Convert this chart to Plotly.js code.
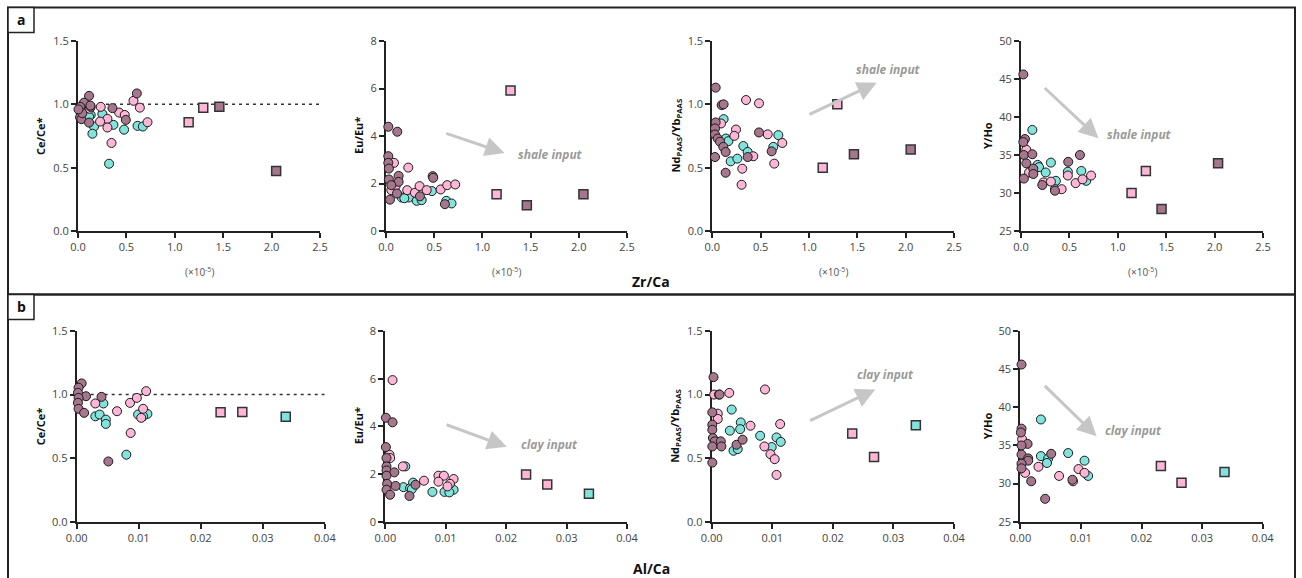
<!DOCTYPE html>
<html>
<head>
<meta charset="utf-8">
<script src="https://cdn.plot.ly/plotly-3.0.1.min.js"></script>
<style>html,body{margin:0;padding:0;background:#fff;}#chart{width:1302px;height:578px;}</style>
</head>
<body>
<div id="chart"></div>
<script>
// ---------------- DATA ----------------
// Row a: x = Zr/Ca (x10^-5)
const a1_mauve_x = [0.114, 0.062, 0.024, 0.131, 0.028, 0.021, 0.035, 0.114, 0.356, 0.608, 0.494, 0.045, 0.005, 0.128];
const a1_mauve_y = [1.067, 1.013, 0.98, 0.98, 0.93, 0.898, 0.883, 0.856, 0.97, 1.086, 0.877, 0.93, 0.96, 0.99];
const a1_pink_x  = [0.235, 0.304, 0.228, 0.304, 0.346, 0.425, 0.483, 0.573, 0.639, 0.718, 0.12];
const a1_pink_y  = [0.98, 0.885, 0.864, 0.817, 0.695, 0.935, 0.916, 1.028, 0.974, 0.859, 0.965];
const a1_cyan_x  = [0.131, 0.166, 0.149, 0.252, 0.366, 0.321, 0.476, 0.615, 0.67, 0.114];
const a1_cyan_y  = [0.916, 0.825, 0.768, 0.924, 0.838, 0.531, 0.8, 0.83, 0.825, 0.903];
const a1_sq_x = [1.143, 1.294, 1.46, 2.047];
const a1_sq_y = [0.859, 0.974, 0.98, 0.474];
const a1_sq_g = ['pink', 'pink', 'mauve', 'mauve'];

const a2_mauve_x = [0.024, 0.117, 0.024, 0.024, 0.03, 0.131, 0.03, 0.131, 0.055, 0.114, 0.041, 0.352, 0.484, 0.49, 0.611];
const a2_mauve_y = [4.39, 4.18, 3.15, 2.87, 2.63, 2.32, 2.17, 2.07, 1.93, 1.58, 1.32, 1.46, 2.31, 2.24, 1.13];
const a2_pink_x  = [0.083, 0.231, 0.055, 0.22, 0.3, 0.348, 0.422, 0.567, 0.635, 0.718, 0.1];
const a2_pink_y  = [2.87, 2.67, 1.72, 1.72, 1.61, 1.89, 1.72, 1.75, 1.93, 1.96, 1.9];
const a2_cyan_x  = [0.163, 0.237, 0.318, 0.37, 0.476, 0.625, 0.68, 0.19];
const a2_cyan_y  = [1.41, 1.41, 1.27, 1.3, 1.68, 1.27, 1.16, 1.38];
const a2_sq_x = [1.147, 1.292, 1.461, 2.048];
const a2_sq_y = [1.55, 5.92, 1.08, 1.55];
const a2_sq_g = ['pink', 'pink', 'mauve', 'mauve'];

const a3_mauve_x = [0.035, 0.097, 0.117, 0.035, 0.028, 0.028, 0.056, 0.08, 0.114, 0.138, 0.028, 0.138, 0.366, 0.483, 0.614];
const a3_mauve_y = [1.132, 0.994, 1.0, 0.857, 0.81, 0.762, 0.73, 0.705, 0.664, 0.624, 0.584, 0.46, 0.584, 0.778, 0.629];
const a3_pink_x  = [0.09, 0.245, 0.228, 0.349, 0.483, 0.424, 0.31, 0.303, 0.573, 0.724, 0.641];
const a3_pink_y  = [0.849, 0.801, 0.751, 1.034, 1.008, 0.59, 0.492, 0.365, 0.763, 0.695, 0.532];
const a3_cyan_x  = [0.117, 0.14, 0.166, 0.19, 0.259, 0.321, 0.366, 0.631, 0.683];
const a3_cyan_y  = [0.883, 0.73, 0.709, 0.55, 0.571, 0.671, 0.624, 0.664, 0.757];
const a3_sq_x = [1.142, 1.293, 1.465, 2.052];
const a3_sq_y = [0.5, 1.0, 0.606, 0.643];
const a3_sq_g = ['pink', 'pink', 'mauve', 'mauve'];

const a4_mauve_x = [0.024, 0.041, 0.024, 0.03, 0.117, 0.055, 0.127, 0.127, 0.03, 0.22, 0.351, 0.488, 0.609];
const a4_mauve_y = [45.6, 37.1, 36.7, 35.0, 35.1, 33.9, 33.2, 32.5, 31.9, 31.05, 30.3, 34.1, 35.0];
const a4_pink_x  = [0.055, 0.083, 0.233, 0.309, 0.42, 0.484, 0.564, 0.636, 0.724];
const a4_pink_y  = [35.7, 32.7, 31.4, 31.5, 30.5, 32.3, 31.3, 31.8, 32.3];
const a4_cyan_x  = [0.117, 0.172, 0.186, 0.255, 0.309, 0.36, 0.351, 0.484, 0.623, 0.674];
const a4_cyan_y  = [38.3, 33.7, 33.4, 32.7, 34.0, 31.6, 30.5, 32.8, 32.9, 31.6];
const a4_sq_x = [1.142, 1.29, 1.452, 2.036];
const a4_sq_y = [30.0, 32.9, 27.9, 33.9];
const a4_sq_g = ['pink', 'pink', 'mauve', 'mauve'];

// Row b: x = Al/Ca
const b1_mauve_x = [0.0008, 0.0003, 0.0002, 0.0015, 0.0003, 0.0002, 0.0003, 0.0012, 0.004, 0.0051];
const b1_mauve_y = [1.088, 1.054, 1.014, 0.987, 0.974, 0.935, 0.888, 0.856, 0.982, 0.474];
const b1_pink_x  = [0.003, 0.0065, 0.0087, 0.0086, 0.0097, 0.0112, 0.0107, 0.0104];
const b1_pink_y  = [0.93, 0.869, 0.698, 0.935, 0.974, 1.027, 0.888, 0.817];
const b1_cyan_x  = [0.0043, 0.003, 0.0037, 0.0047, 0.0047, 0.008, 0.0099, 0.0114, 0.0107];
const b1_cyan_y  = [0.93, 0.829, 0.843, 0.803, 0.769, 0.527, 0.843, 0.848, 0.829];
const b1_sq_x = [0.0232, 0.0267, 0.0337];
const b1_sq_y = [0.861, 0.863, 0.825];
const b1_sq_g = ['pink', 'pink', 'cyan'];

const b2_mauve_x = [0.0001, 0.0012, 0.0001, 0.0002, 0.0002, 0.0002, 0.0015, 0.0002, 0.0003, 0.0017, 0.0002, 0.0008, 0.004, 0.005];
const b2_mauve_y = [4.36, 4.17, 3.13, 2.67, 2.32, 2.15, 2.07, 1.93, 1.59, 1.5, 1.34, 1.13, 1.08, 1.55];
const b2_pink_x  = [0.0012, 0.0007, 0.0008, 0.0029, 0.0064, 0.0088, 0.0097, 0.0088, 0.0113, 0.0107, 0.0103];
const b2_pink_y  = [5.94, 2.81, 2.67, 2.32, 1.72, 1.93, 1.93, 1.68, 1.79, 1.59, 1.48];
const b2_cyan_x  = [0.0033, 0.003, 0.0041, 0.0046, 0.0044, 0.0078, 0.0098, 0.0113, 0.0106];
const b2_cyan_y  = [2.32, 1.45, 1.41, 1.64, 1.37, 1.25, 1.25, 1.34, 1.23];
const b2_sq_x = [0.0233, 0.0268, 0.0337];
const b2_sq_y = [1.98, 1.56, 1.17];
const b2_sq_g = ['pink', 'pink', 'cyan'];

const b3_mauve_x = [0.0003, 0.0012, 0.0013, 0.0001, 0.0001, 0.0001, 0.0002, 0.0005, 0.0015, 0.0016, 0.0001, 0.0001, 0.0041, 0.0051];
const b3_mauve_y = [1.137, 1.0, 1.0, 0.86, 0.763, 0.723, 0.658, 0.632, 0.632, 0.592, 0.592, 0.465, 0.605, 0.645];
const b3_pink_x  = [0.0004, 0.0029, 0.001, 0.001, 0.0064, 0.0088, 0.0087, 0.0097, 0.0104, 0.0107, 0.0113];
const b3_pink_y  = [1.0, 1.013, 0.85, 0.808, 0.755, 1.04, 0.592, 0.531, 0.492, 0.368, 0.768];
const b3_cyan_x  = [0.0033, 0.003, 0.0048, 0.0047, 0.0036, 0.0043, 0.008, 0.0099, 0.0107, 0.0114];
const b3_cyan_y  = [0.882, 0.716, 0.781, 0.728, 0.558, 0.571, 0.676, 0.587, 0.663, 0.628];
const b3_sq_x = [0.0232, 0.0268, 0.0337];
const b3_sq_y = [0.694, 0.508, 0.758];
const b3_sq_g = ['pink', 'pink', 'cyan'];

const b4_mauve_x = [0.0002, 0.0002, 0.0001, 0.0012, 0.0002, 0.0002, 0.0013, 0.0013, 0.0002, 0.0002, 0.0018, 0.0041, 0.0051, 0.0086];
const b4_mauve_y = [45.6, 37.2, 36.7, 35.2, 35.0, 33.8, 33.3, 33.0, 32.6, 32.0, 30.3, 28.0, 33.9, 30.5];
const b4_pink_x  = [0.0003, 0.0008, 0.003, 0.0064, 0.0087, 0.0096, 0.0106];
const b4_pink_y  = [35.8, 31.4, 32.2, 31.0, 30.3, 31.9, 31.4];
const b4_cyan_x  = [0.0034, 0.0034, 0.0046, 0.0044, 0.0079, 0.0106, 0.0112];
const b4_cyan_y  = [38.4, 33.6, 33.3, 32.7, 34.0, 33.0, 31.0];
const b4_sq_x = [0.0232, 0.0266, 0.0337];
const b4_sq_y = [32.3, 30.1, 31.5];
const b4_sq_g = ['pink', 'pink', 'cyan'];

// Axis ticks / titles
const zrTicks = [0, 0.5, 1.0, 1.5, 2.0, 2.5];
const alTicks = [0, 0.01, 0.02, 0.03, 0.04];
const ceTicks = [0, 0.5, 1.0, 1.5];
const euTicks = [0, 2, 4, 6, 8];
const ndTicks = [0, 0.5, 1.0, 1.5];
const yhoTicks = [25, 30, 35, 40, 45, 50];
const yTitles = ['Ce/Ce*', 'Eu/Eu*', 'Nd<sub>PAAS</sub>/Yb<sub>PAAS</sub>', 'Y/Ho'];
const rowXTitles = ['Zr/Ca', 'Al/Ca'];
const inputLabels = ['shale input', 'clay input'];

// ---------------- STYLE / LAYOUT ----------------
const W = 1302, H = 578;
const FONT = 'Open Sans, Noto Sans, sans-serif';
const COLORS = {mauve: '#a5768c', pink: '#ffb6d6', cyan: '#82e3dd'};
const px = v => v / W;
const py = v => 1 - v / H;

const rowA_y = [41, 231];
const rowB_y = [331, 521.7];
const colA_x = [[78, 320], [386, 627], [712.3, 954], [1021, 1263]];
const colB_x = [[76.7, 324.8], [385.3, 627], [711.7, 954], [1020.3, 1262.7]];

const panels = [
  {m:[a1_mauve_x,a1_mauve_y], p:[a1_pink_x,a1_pink_y], c:[a1_cyan_x,a1_cyan_y], s:[a1_sq_x,a1_sq_y,a1_sq_g], yt:ceTicks, yf:'.1f'},
  {m:[a2_mauve_x,a2_mauve_y], p:[a2_pink_x,a2_pink_y], c:[a2_cyan_x,a2_cyan_y], s:[a2_sq_x,a2_sq_y,a2_sq_g], yt:euTicks, yf:'d'},
  {m:[a3_mauve_x,a3_mauve_y], p:[a3_pink_x,a3_pink_y], c:[a3_cyan_x,a3_cyan_y], s:[a3_sq_x,a3_sq_y,a3_sq_g], yt:ndTicks, yf:'.1f'},
  {m:[a4_mauve_x,a4_mauve_y], p:[a4_pink_x,a4_pink_y], c:[a4_cyan_x,a4_cyan_y], s:[a4_sq_x,a4_sq_y,a4_sq_g], yt:yhoTicks, yf:'d'},
  {m:[b1_mauve_x,b1_mauve_y], p:[b1_pink_x,b1_pink_y], c:[b1_cyan_x,b1_cyan_y], s:[b1_sq_x,b1_sq_y,b1_sq_g], yt:ceTicks, yf:'.1f'},
  {m:[b2_mauve_x,b2_mauve_y], p:[b2_pink_x,b2_pink_y], c:[b2_cyan_x,b2_cyan_y], s:[b2_sq_x,b2_sq_y,b2_sq_g], yt:euTicks, yf:'d'},
  {m:[b3_mauve_x,b3_mauve_y], p:[b3_pink_x,b3_pink_y], c:[b3_cyan_x,b3_cyan_y], s:[b3_sq_x,b3_sq_y,b3_sq_g], yt:ndTicks, yf:'.1f'},
  {m:[b4_mauve_x,b4_mauve_y], p:[b4_pink_x,b4_pink_y], c:[b4_cyan_x,b4_cyan_y], s:[b4_sq_x,b4_sq_y,b4_sq_g], yt:yhoTicks, yf:'d'}
];

const traces = [];
const layout = {
  width: W, height: H,
  margin: {l:0, r:0, t:0, b:0},
  paper_bgcolor: '#fff', plot_bgcolor: 'rgba(0,0,0,0)',
  showlegend: false,
  font: {family: FONT, size: 11, color: '#444'},
  shapes: [], annotations: []
};

panels.forEach((P, i) => {
  const n = i + 1;
  const xa = n === 1 ? 'x' : 'x' + n;
  const ya = n === 1 ? 'y' : 'y' + n;
  const row = i < 4 ? 0 : 1;
  const col = i % 4;
  const xd = row === 0 ? colA_x[col] : colB_x[col];
  const yd = row === 0 ? rowA_y : rowB_y;
  const xt = row === 0 ? zrTicks : alTicks;
  const common = {
    showline: true, linewidth: 2, linecolor: '#222', mirror: false,
    ticks: 'outside', ticklen: 5, tickwidth: 2, tickcolor: '#222',
    showgrid: false, zeroline: false, fixedrange: true,
    tickfont: {family: FONT, size: 11, color: '#444'},
    layer: 'below traces'
  };
  layout['xaxis' + (n === 1 ? '' : n)] = Object.assign({}, common, {
    domain: [px(xd[0]), px(xd[1])], anchor: ya,
    range: [xt[0], xt[xt.length - 1]], tickvals: xt,
    tickformat: row === 0 ? '.1f' : '.2f'
  });
  layout['yaxis' + (n === 1 ? '' : n)] = Object.assign({}, common, {
    domain: [py(yd[1]), py(yd[0])], anchor: xa,
    range: [P.yt[0], P.yt[P.yt.length - 1]], tickvals: P.yt,
    tickformat: P.yf
  });

  const mk = (arr, color) => ({
    type: 'scatter', mode: 'markers', x: arr[0], y: arr[1], xaxis: xa, yaxis: ya,
    cliponaxis: false, hoverinfo: 'skip',
    marker: {size: 9, color: color, line: {color: '#1a1a1a', width: 1}}
  });
  traces.push(mk(P.c, COLORS.cyan));
  traces.push(mk(P.p, COLORS.pink));
  traces.push(mk(P.m, COLORS.mauve));
  traces.push({
    type: 'scatter', mode: 'markers', x: P.s[0], y: P.s[1], xaxis: xa, yaxis: ya,
    cliponaxis: false, hoverinfo: 'skip',
    marker: {symbol: 'square', size: 9, color: P.s[2].map(g => COLORS[g]), line: {color: '#333', width: 1.5}}
  });

  // dashed reference line at Ce/Ce* = 1
  if (col === 0) {
    layout.shapes.push({type: 'line', xref: xa, yref: ya, x0: xt[0], x1: xt[xt.length - 1], y0: 1, y1: 1,
      layer: 'below', line: {color: '#333', width: 1.5, dash: '3px,4px'}});
  }

  // y-axis title
  const ytx = [40, 358, 675.5, 987][col];
  layout.annotations.push({
    xref: 'paper', yref: 'paper', x: px(ytx), y: py((yd[0] + yd[1]) / 2),
    text: '<b>' + yTitles[col] + '</b>', textangle: -90, showarrow: false,
    xanchor: 'center', yanchor: 'middle',
    font: {family: FONT, size: 11, color: '#111'}
  });

  // x-multiplier note in row a
  if (row === 0) {
    layout.annotations.push({
      xref: 'paper', yref: 'paper', x: px((xd[0] + xd[1]) / 2), y: py(272),
      text: '(×10<sup>-5</sup>)', showarrow: false, xanchor: 'center', yanchor: 'middle',
      font: {family: FONT, size: 10, color: '#555'}
    });
  }
});

// arrows + labels (data coordinates)
const arrowSpecs = [
  {n:2, tail:[0.61, 4.13], head:[1.23, 3.28], lab:[1.708, 3.23], row:0},
  {n:3, tail:[0.99, 0.915], head:[1.70, 1.17], lab:[1.82, 1.272], row:0},
  {n:4, tail:[0.23, 44.0], head:[0.80, 37.2], lab:[1.228, 37.72], row:0},
  {n:6, tail:[0.0099, 4.09], head:[0.0201, 3.14], lab:[0.02715, 3.22], row:1},
  {n:7, tail:[0.016, 0.79], head:[0.027, 1.04], lab:[0.02873, 1.156], row:1},
  {n:8, tail:[0.0038, 43.0], head:[0.0126, 36.2], lab:[0.01876, 36.9], row:1}
];
arrowSpecs.forEach(a => {
  const xa = 'x' + a.n, ya = 'y' + a.n;
  layout.annotations.push({
    xref: xa, yref: ya, axref: xa, ayref: ya,
    x: a.head[0], y: a.head[1], ax: a.tail[0], ay: a.tail[1],
    text: '', showarrow: true, arrowhead: 2, arrowsize: 1.3, arrowwidth: 3,
    arrowcolor: '#c6c6c6', standoff: 0
  });
  layout.annotations.push({
    xref: xa, yref: ya, x: a.lab[0], y: a.lab[1],
    text: '<b><i>' + inputLabels[a.row] + '</i></b>', showarrow: false,
    xanchor: 'center', yanchor: 'middle',
    font: {family: FONT, size: 12, color: '#9a9a9a'}
  });
});

// row x titles
layout.annotations.push({xref:'paper', yref:'paper', x: px(651), y: py(282), text: '<b>' + rowXTitles[0] + '</b>',
  showarrow:false, xanchor:'center', yanchor:'middle', font:{family: FONT, size: 14, color:'#111'}});
layout.annotations.push({xref:'paper', yref:'paper', x: px(651), y: py(568), text: '<b>' + rowXTitles[1] + '</b>',
  showarrow:false, xanchor:'center', yanchor:'middle', font:{family: FONT, size: 14, color:'#111'}});

// frames and panel labels
layout.shapes.push({type:'rect', xref:'paper', yref:'paper', x0: px(8), x1: px(1295), y0: py(294.5), y1: py(7.5),
  line:{color:'#222', width:2}, fillcolor:'rgba(0,0,0,0)', layer:'below'});
layout.shapes.push({type:'rect', xref:'paper', yref:'paper', x0: px(8), x1: px(1295), y0: py(582), y1: py(294.5),
  line:{color:'#222', width:2}, fillcolor:'rgba(0,0,0,0)', layer:'below'});
[[7.5, 'a'], [294.5, 'b']].forEach(([top, lab]) => {
  layout.shapes.push({type:'rect', xref:'paper', yref:'paper', x0: px(8), x1: px(34), y0: py(top + 25), y1: py(top),
    line:{color:'#222', width:1.5}, fillcolor:'#fff'});
  layout.annotations.push({xref:'paper', yref:'paper', x: px(21), y: py(top + 12), text: '<b>' + lab + '</b>',
    showarrow:false, xanchor:'center', yanchor:'middle', font:{family: FONT, size: 14, color:'#111'}});
});

Plotly.newPlot('chart', traces, layout, {staticPlot: true, displayModeBar: false});
</script>
</body>
</html>
